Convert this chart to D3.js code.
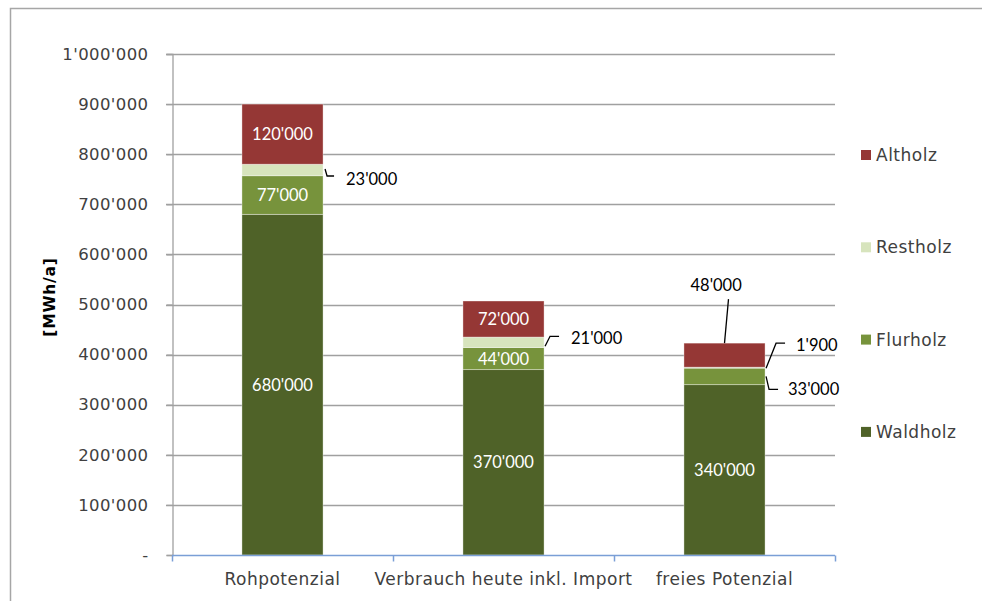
<!DOCTYPE html>
<html><head><meta charset="utf-8">
<script src="https://cdn.jsdelivr.net/npm/d3@7"></script>
<style>body{margin:0;background:#fff}svg{display:block}</style>
</head><body>
<svg id="c" width="982" height="601"></svg>
<script>
const categories = ["Rohpotenzial", "Verbrauch heute inkl. Import", "freies Potenzial"];
const seriesNames = ["Waldholz", "Flurholz", "Restholz", "Altholz"];
const waldholz = [680000, 370000, 340000];
const flurholz = [77000, 44000, 33000];
const restholz = [23000, 21000, 1900];
const altholz = [120000, 72000, 48000];
const yTicks = [0, 100000, 200000, 300000, 400000, 500000, 600000, 700000, 800000, 900000, 1000000];
const colors = ["#4F6228", "#77933C", "#D7E4BD", "#953735"];

const svg = d3.select("#c");
const m = {left: 172, right: 835, top: 54, bottom: 555};
const tickFont = "'DejaVu Sans', sans-serif";
const labFont = "Lato, 'Open Sans', sans-serif";

// outer border
svg.append("rect").attr("x", 10.5).attr("y", 8.5).attr("width", 1000).attr("height", 700)
  .attr("fill", "none").attr("stroke", "#a6a6a6").attr("stroke-width", 1.5);

const x = d3.scaleBand().domain(categories).range([m.left, m.right]).paddingInner(0.633).paddingOuter(0.3165);
const xb = d3.scaleBand().domain(categories).range([m.left, m.right]);
const y = d3.scaleLinear().domain([0, 1000000]).range([m.bottom, m.top]);

const fmt = v => v === 0 ? "-" : d3.format(",")(v).replace(/,/g, "'");

// gridlines
svg.append("g").selectAll("line").data(yTicks.filter(d => d > 0)).join("line")
  .attr("x1", m.left - 6).attr("x2", m.right).attr("y1", d => Math.round(y(d)) + 0.5).attr("y2", d => Math.round(y(d)) + 0.5)
  .attr("stroke", "#a0a0a0").attr("stroke-width", 1.3);

// y axis
const ya = svg.append("g").attr("transform", `translate(${m.left + 0.5},0)`)
  .call(d3.axisLeft(y).tickValues(yTicks).tickFormat(fmt).tickSize(6).tickPadding(18));
ya.select(".domain").attr("stroke", "#a0a0a0").attr("stroke-width", 1.3);
ya.selectAll(".tick line").attr("stroke", "#a0a0a0").attr("stroke-width", 1.3);
ya.selectAll(".tick text").attr("font-family", tickFont).attr("font-size", 16.5).attr("fill", "#404040")
  .attr("letter-spacing", 0.4);

// stacked data
const rows = categories.map((c, i) => ({cat: c, Waldholz: waldholz[i], Flurholz: flurholz[i], Restholz: restholz[i], Altholz: altholz[i]}));
const stack = d3.stack().keys(seriesNames)(rows);

const gBars = svg.append("g");
stack.forEach((s, si) => {
  gBars.selectAll(null).data(s).join("rect")
    .attr("x", d => x(d.data.cat)).attr("width", x.bandwidth())
    .attr("y", d => y(d[1])).attr("height", d => y(d[0]) - y(d[1]))
    .attr("fill", colors[si]).attr("stroke", "#ffffff").attr("stroke-opacity", 0.45).attr("stroke-width", 0.8);
});

// x axis
const xa = svg.append("g").attr("transform", `translate(0,${m.bottom + 0.5})`);
xa.append("line").attr("x1", m.left).attr("x2", m.right).attr("stroke", "#7A9FD6").attr("stroke-width", 1.5);
const xticks = [m.left, xb(categories[1]), xb(categories[2]), m.right];
xa.selectAll(".t").data(xticks).join("line").attr("class", "t")
  .attr("x1", d => Math.round(d) + 0.5).attr("x2", d => Math.round(d) + 0.5).attr("y1", 0).attr("y2", 6)
  .attr("stroke", "#7A9FD6").attr("stroke-width", 1.5);
xa.selectAll("text").data(categories).join("text")
  .attr("x", d => xb(d) + xb.bandwidth() / 2).attr("y", 29)
  .attr("text-anchor", "middle").attr("font-family", tickFont).attr("font-size", 17)
  .attr("fill", "#404040").attr("letter-spacing", 0.5).text(d => d);

// y axis title
svg.append("text").attr("transform", `translate(55,297) rotate(-90)`)
  .attr("text-anchor", "middle").attr("font-family", tickFont).attr("font-weight", "bold")
  .attr("font-size", 15.5).attr("fill", "#000").attr("letter-spacing", 0.8).text("[MWh/a]");

// data labels
const gl = svg.append("g").attr("font-family", labFont).attr("font-size", 16.5);
function inside(si, ci) {
  const d = stack[si][ci];
  gl.append("text").attr("x", x(categories[ci]) + x.bandwidth() / 2).attr("y", y((d[0] + d[1]) / 2))
    .attr("dy", "0.36em").attr("text-anchor", "middle").attr("fill", "#fff").text(fmt(d.data[seriesNames[si]]));
}
[[0,0],[1,0],[3,0],[0,1],[1,1],[3,1],[0,2]].forEach(([s, c]) => inside(s, c));

function leader(pts, tx, ty, txt) {
  gl.append("path").attr("d", d3.line()(pts)).attr("fill", "none").attr("stroke", "#000").attr("stroke-width", 1.3);
  gl.append("text").attr("x", tx).attr("y", ty).attr("dy", "0.36em").attr("fill", "#000").text(txt);
}
// Rohpotenzial Restholz
{
  const ci = 0, d = stack[2][ci], xr = x(categories[ci]) + x.bandwidth();
  const ym = y((d[0] + d[1]) / 2);
  leader([[xr + 2, ym - 1], [xr + 4, ym + 6], [xr + 11, ym + 6]], xr + 23, ym + 9, fmt(restholz[ci]));
}
// Verbrauch Restholz
{
  const ci = 1, d = stack[2][ci], xr = x(categories[ci]) + x.bandwidth();
  const ym = y((d[0] + d[1]) / 2);
  leader([[xr + 1, ym + 4], [xr + 6, ym - 6], [xr + 15, ym - 6]], xr + 27, ym - 4, fmt(restholz[ci]));
}
// freies Altholz
{
  const ci = 2, d = stack[3][ci], xc = x(categories[ci]) + x.bandwidth() / 2;
  const yt = y(d[1]);
  leader([[xc + 4, yt - 44], [xc, yt]], xc - 34, yt - 58, fmt(altholz[ci]));
}
// freies Restholz
{
  const ci = 2, d = stack[2][ci], xr = x(categories[ci]) + x.bandwidth();
  const ym = y(d[1]);
  leader([[xr + 1, ym + 1], [xr + 11, ym - 24], [xr + 20, ym - 24]], xr + 31, ym - 22, fmt(restholz[ci]));
}
// freies Flurholz
{
  const ci = 2, d = stack[1][ci], xr = x(categories[ci]) + x.bandwidth();
  const ym = y((d[0] + d[1]) / 2);
  leader([[xr + 1, ym], [xr + 4, ym + 13], [xr + 13, ym + 13]], xr + 23, ym + 13, fmt(flurholz[ci]));
}

// legend
const legOrder = ["Altholz", "Restholz", "Flurholz", "Waldholz"];
const lg = svg.append("g");
legOrder.forEach((n, i) => {
  const yy = 155 + i * 92.3;
  lg.append("rect").attr("x", 861).attr("y", yy - 5).attr("width", 10).attr("height", 10)
    .attr("fill", colors[seriesNames.indexOf(n)]);
  lg.append("text").attr("x", 876).attr("y", yy).attr("dy", "0.36em").attr("font-family", tickFont)
    .attr("font-size", 17).attr("fill", "#404040").attr("letter-spacing", 0.5).text(n);
});
</script>
</body></html>
